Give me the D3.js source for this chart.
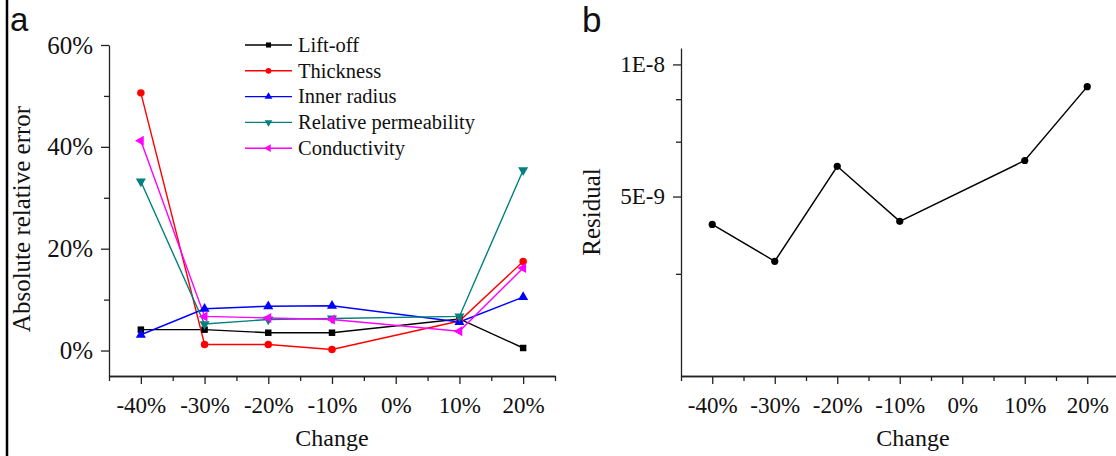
<!DOCTYPE html>
<html lang="en">

<head>
    <meta charset="UTF-8">
    <title>Sensitivity</title>
    <script src="https://cdn.jsdelivr.net/npm/d3@7"></script>
    <style>
        * {
            margin: 0;
        }

        body {
            background: #fff;
        }

        text {
            font-family: "Liberation Serif", "Times New Roman", serif;
            fill: #111;
        }
    </style>
</head>

<body>
    <svg id="chart" width="1116" height="456"></svg>
    <script>
        // 数据
        var changes = [-40, -30, -20, -10, 10, 20];
        var liftOff = [4.1, 4.1, 3.5, 3.5, 6.2, 0.5];
        var thickness = [50.6, 1.2, 1.2, 0.2, 5.8, 17.5];
        var innerRadius = [3.1, 8.2, 8.7, 8.8, 5.6, 10.5];
        var permeability = [33.2, 5.2, 6.1, 6.3, 6.7, 35.4];
        var conductivity = [41.2, 6.7, 6.4, 6.1, 3.8, 16.2];
        var residual = [4.32e-9, 3.56e-9, 5.86e-9, 4.39e-9, 6.04e-9, 8.9e-9];

        var xTicks = [-40, -30, -20, -10, 0, 10, 20];
        var xMinor = [-45, -35, -25, -15, -5, 5, 15, 25];
        var errTicks = [0, 20, 40, 60];
        var errMinor = [10, 30, 50];
        var resTicks = [1e-8, 5e-9];
        var resTickLabels = ["1E-8", "5E-9"];
        var resMinor = [8.333e-9, 6.667e-9, 3.333e-9];

        var series = [
            { name: "Lift-off", values: liftOff, color: "#000000", shape: d3.symbolSquare, rot: 0, size: 42 },
            { name: "Thickness", values: thickness, color: "#ff0000", shape: d3.symbolCircle, rot: 0, size: 44 },
            { name: "Inner radius", values: innerRadius, color: "#0000ff", shape: d3.symbolTriangle, rot: 0, size: 44 },
            { name: "Relative permeability", values: permeability, color: "#008080", shape: d3.symbolTriangle, rot: 180, size: 44 },
            { name: "Conductivity", values: conductivity, color: "#ff00ff", shape: d3.symbolTriangle, rot: -90, size: 44 }
        ];

        var svg = d3.select("#chart");

        // 左边的竖线
        svg.append("line")
            .attr("x1", 7).attr("x2", 7)
            .attr("y1", 0).attr("y2", 456)
            .attr("stroke", "#000").attr("stroke-width", 2.5);

        function styleAxis(g) {
            g.selectAll("path, line").attr("stroke", "#222").attr("stroke-width", 1.3);
        }

        function drawXAxis(x, y0) {
            svg.append("g")
                .attr("transform", "translate(0," + y0 + ")")
                .call(d3.axisBottom(x).tickValues(xMinor).tickSize(5).tickSizeOuter(0).tickFormat(""))
                .call(styleAxis);
            svg.append("g")
                .attr("transform", "translate(0," + y0 + ")")
                .call(d3.axisBottom(x).tickValues(xTicks).tickSize(8).tickSizeOuter(0).tickPadding(13)
                    .tickFormat(function (d) { return d + "%"; }))
                .call(styleAxis)
                .selectAll("text")
                .attr("font-size", 23);
        }

        // ---------- a ----------
        var xA = d3.scaleLinear().domain([-45, 25]).range([109, 555]);
        var yA = d3.scaleLinear().domain([-5, 60]).range([376, 45]);

        svg.append("g")
            .attr("transform", "translate(109,0)")
            .call(d3.axisLeft(yA).tickValues(errMinor).tickSize(5).tickSizeOuter(0).tickFormat(""))
            .call(function (g) { g.select(".domain").remove(); })
            .call(styleAxis);
        svg.append("g")
            .attr("transform", "translate(109,0)")
            .call(d3.axisLeft(yA).tickValues(errTicks).tickSize(8).tickSizeOuter(0).tickPadding(8)
                .tickFormat(function (d) { return d + "%"; }))
            .call(styleAxis)
            .selectAll("text")
            .attr("font-size", 25);
        drawXAxis(xA, 376);

        var lineA = d3.line()
            .x(function (d, i) { return xA(changes[i]); })
            .y(function (d) { return yA(d); });

        series.forEach(function (s) {
            svg.append("path")
                .attr("d", lineA(s.values))
                .attr("fill", "none")
                .attr("stroke", s.color)
                .attr("stroke-width", 1.4);
        });
        series.forEach(function (s) {
            var sym = d3.symbol().type(s.shape).size(s.size);
            svg.append("g").selectAll("path")
                .data(s.values)
                .enter()
                .append("path")
                .attr("d", sym)
                .attr("fill", s.color)
                .attr("transform", function (d, i) {
                    return "translate(" + xA(changes[i]) + "," + yA(d) + ") rotate(" + s.rot + ")";
                });
        });

        // 图例
        var legend = svg.append("g").selectAll("g")
            .data(series)
            .enter()
            .append("g")
            .attr("transform", function (d, i) { return "translate(245," + (45 + i * 25.8) + ")"; });
        legend.append("line")
            .attr("x1", 0).attr("x2", 47)
            .attr("stroke", function (d) { return d.color; })
            .attr("stroke-width", 1.4);
        legend.append("path")
            .attr("d", function (d) { return d3.symbol().type(d.shape).size(26)(); })
            .attr("fill", function (d) { return d.color; })
            .attr("transform", function (d) { return "translate(23.5,0) rotate(" + d.rot + ")"; });
        legend.append("text")
            .attr("x", 53)
            .attr("dy", "0.33em")
            .attr("font-size", 20.5)
            .text(function (d) { return d.name; });

        svg.append("text")
            .attr("transform", "translate(21,219) rotate(-90)")
            .attr("text-anchor", "middle")
            .attr("dy", "0.35em")
            .attr("font-size", 25)
            .text("Absolute relative error");
        svg.append("text")
            .attr("x", 332).attr("y", 446)
            .attr("text-anchor", "middle")
            .attr("font-size", 24)
            .text("Change");

        svg.append("text")
            .attr("x", 10).attr("y", 31)
            .attr("font-size", 33)
            .style("font-family", "'Liberation Sans', Arial, sans-serif")
            .text("a");

        // ---------- b ----------
        var xB = d3.scaleLinear().domain([-45, 25]).range([681, 1118.5]);
        var yB = d3.scaleLog().domain([1.95e-9, 1.09e-8]).range([376, 48]);

        svg.append("g")
            .attr("transform", "translate(681,0)")
            .call(d3.axisLeft(yB).tickValues(resMinor).tickSize(5).tickSizeOuter(0).tickFormat(""))
            .call(function (g) { g.select(".domain").remove(); })
            .call(styleAxis);
        svg.append("g")
            .attr("transform", "translate(681,0)")
            .call(d3.axisLeft(yB).tickValues(resTicks).tickSize(8).tickSizeOuter(0).tickPadding(8)
                .tickFormat(function (d, i) { return resTickLabels[i]; }))
            .call(styleAxis)
            .selectAll("text")
            .attr("font-size", 23);
        drawXAxis(xB, 376);

        var lineB = d3.line()
            .x(function (d, i) { return xB(changes[i]); })
            .y(function (d) { return yB(d); });

        svg.append("path")
            .attr("d", lineB(residual))
            .attr("fill", "none")
            .attr("stroke", "#000")
            .attr("stroke-width", 1.5);
        svg.append("g").selectAll("circle")
            .data(residual)
            .enter()
            .append("circle")
            .attr("cx", function (d, i) { return xB(changes[i]); })
            .attr("cy", function (d) { return yB(d); })
            .attr("r", 3.6)
            .attr("fill", "#000");

        svg.append("text")
            .attr("transform", "translate(591,212) rotate(-90)")
            .attr("text-anchor", "middle")
            .attr("dy", "0.35em")
            .attr("font-size", 25)
            .text("Residual");
        svg.append("text")
            .attr("x", 913).attr("y", 446)
            .attr("text-anchor", "middle")
            .attr("font-size", 24)
            .text("Change");

        svg.append("text")
            .attr("x", 582).attr("y", 32)
            .attr("font-size", 35)
            .style("font-family", "'Liberation Sans', Arial, sans-serif")
            .text("b");
    </script>
</body>

</html>
